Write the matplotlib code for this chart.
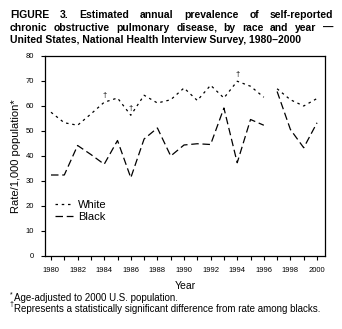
import matplotlib
matplotlib.use("Agg")
import matplotlib.pyplot as plt
import numpy as np

plt.rcParams['font.family'] = ['Liberation Sans', 'DejaVu Sans']

# annual prevalence per 1,000, age-adjusted
years = np.arange(1980, 2001)
white = [57.5, 53.3, 52.3, 56.8, 61.5, 63.2, 56.3, 64.3, 61.2, 62.5, 67.2,
         62.2, 68.3, 63.2, 69.9, 67.9, 63.5, 66.9, 62.5, 60.0, 63.0]
black = [32.4, 32.4, 44.2, 40.6, 36.7, 46.2, 31.3, 46.8, 51.2, 40.0, 44.4,
         44.9, 44.6, 59.2, 37.3, 54.6, 52.3, 65.8, 50.6, 43.3, 53.3]
# survey redesign gap between 1996 and 1997
split = 17
sig_years = [1984, 1986, 1994]

fig = plt.figure(figsize=(3.42, 3.29), dpi=100)
ax = fig.add_axes([0.1316, 0.2219, 0.8187, 0.6079])

wstyle = dict(color="black", lw=0.9, dashes=(2.0, 3.0))
bstyle = dict(color="black", lw=0.9, dashes=(6.0, 3.0))

ax.plot(years[:split], white[:split], label="White", **wstyle)
ax.plot(years[split:], white[split:], **wstyle)
ax.plot(years[:split], black[:split], label="Black", **bstyle)
ax.plot(years[split:], black[split:], **bstyle)

for yr in sig_years:
    ax.annotate("\u2020", (yr, white[yr - 1980]), xytext=(0, 2),
                textcoords="offset points", ha="center", va="bottom",
                fontsize=5.5)

ax.set_xlim(1979.55, 2000.6)
ax.set_ylim(0, 80)
ax.set_xticks(np.arange(1980, 2001, 2))
ax.set_xticks(np.arange(1980, 2001, 1), minor=True)
ax.set_yticks(np.arange(0, 81, 10))
ax.tick_params(axis="both", which="both", direction="out", length=3,
               width=0.8, labelsize=5.5, pad=5)
for s in ax.spines.values():
    s.set_linewidth(0.9)

ax.set_ylabel("Rate/1,000 population*", fontsize=8, labelpad=3)
ax.set_xlabel("Year", fontsize=7.5, labelpad=5)

ax.legend(loc="lower left", bbox_to_anchor=(0.0, 0.12), frameon=False,
          fontsize=8, handlelength=1.6, handletextpad=0.5,
          labelspacing=0.2)

# title, first two lines justified to the full width
title = ["FIGURE 3. Estimated annual prevalence of self-reported",
         "chronic obstructive pulmonary disease, by race and year \u2014",
         "United States, National Health Interview Survey, 1980\u20132000"]
x0, x1 = 0.029, 0.974
r = fig.canvas.get_renderer()
for i, line in enumerate(title):
    yy = 0.955 - i * 0.039
    if i == len(title) - 1:
        fig.text(x0, yy, line, fontsize=7.5, fontweight="bold", va="center")
        continue
    words = line.split(" ")
    widths = []
    for w in words:
        t = fig.text(0, 0, w, fontsize=7.5, fontweight="bold")
        widths.append(t.get_window_extent(r).width / fig.bbox.width)
        t.remove()
    gap = (x1 - x0 - sum(widths)) / (len(words) - 1)
    xx = x0
    for w, wd in zip(words, widths):
        fig.text(xx, yy, w, fontsize=7.5, fontweight="bold", va="center")
        xx += wd + gap

fig.text(0.029, 0.104, "*", fontsize=5, va="center")
fig.text(0.040, 0.094, "Age-adjusted to 2000 U.S. population.",
         fontsize=7, va="center")
fig.text(0.029, 0.073, "\u2020", fontsize=5, va="center")
fig.text(0.040, 0.061,
         "Represents a statistically significant difference from rate among blacks.",
         fontsize=7, va="center")

fig.savefig("out.png", dpi=100)
